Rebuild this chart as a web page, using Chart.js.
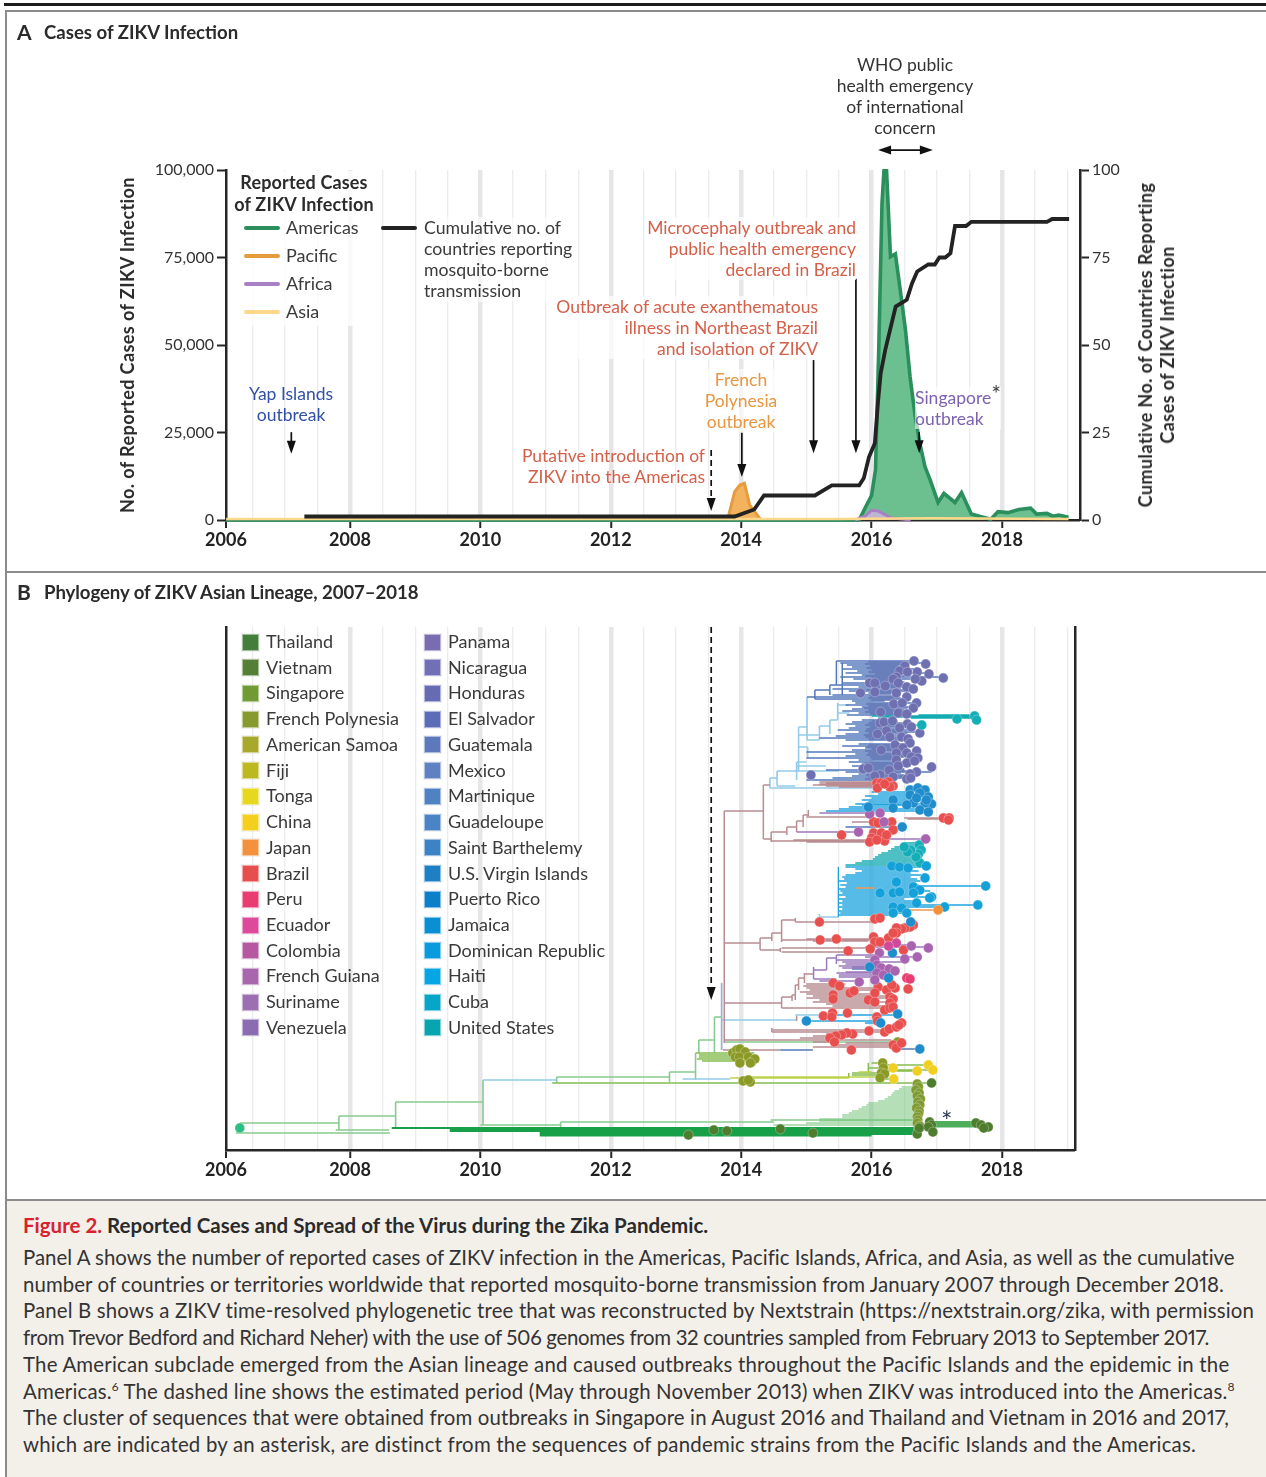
<!DOCTYPE html>
<html>
<head>
<meta charset="utf-8">
<title>Reported Cases and Spread of the Virus during the Zika Pandemic</title>
<script src="https://cdn.jsdelivr.net/npm/chart.js@4/dist/chart.umd.min.js"></script>
<style>
html, body { margin: 0; padding: 0; background: #fff; }
body { position: relative; width: 1266px; height: 1477px; overflow: hidden; font-family: Lato, sans-serif; color: #333; }
canvas { position: absolute; left: 0; display: block; }
#chartA { top: 0; }
#chartB { top: 572px; }
.rule { position: absolute; background: #8b8b8b; }
#caption { position: absolute; left: 7px; top: 1200px; width: 1259px; height: 277px; background: #f3f0ea; }
.cap { position: absolute; left: 23px; font-size: 20.4px; line-height: 26px; white-space: nowrap; color: #333; font-variant-numeric: proportional-nums; }
.cap sup { font-size: 12px; line-height: 0; }
.t { position: absolute; white-space: nowrap; font-size: 17.5px; line-height: 21.3px; }
.r { text-align: right; } .c { text-align: center; }
.red { color: #d4604a; } .bold { font-weight: 700; color: #2b2b2b; }
.lk { position: absolute; height: 4px; border-radius: 2px; width: 36px; }
.sw { position: absolute; width: 15px; height: 15px; border: 1px solid rgba(255,255,255,.5); outline: 1px solid rgba(0,0,0,.05); }
.lt { position: absolute; font-size: 18px; line-height: 22px; white-space: nowrap; color: #3a3a3a; }
.rot { position: absolute; transform: translate(-50%, -50%) rotate(-90deg); white-space: nowrap; font-weight: 700; font-size: 18px; line-height: 22px; letter-spacing: .42px; color: #2b2b2b; text-align: center; }
</style>
</head>
<body>
<canvas id="chartA" width="1266" height="571"></canvas>
<canvas id="chartB" width="1266" height="627"></canvas>
<div id="caption"></div>
<div id="overlay"></div>

<script>
// Panel A - reported cases, readings (decimal year, cases)
const americasYears = [2006.1,2015.81,2015.91,2016.0,2016.06,2016.11,2016.16,2016.19,2016.23,2016.29,2016.365,2016.44,2016.52,2016.59,2016.67,2016.74,2016.82,2016.9,2017.02,2017.11,2017.28,2017.38,2017.53,2017.68,2017.83,2017.94,2018.09,2018.26,2018.44,2018.53,2018.69,2018.78,2018.87,2019.02];
const americasCases = [0,0,3800,7000,14300,48600,90500,99800,99800,75200,76000,65700,54300,41000,29500,21900,15200,11400,5000,7600,5000,7800,1700,950,200,2400,2100,3000,3400,1700,1900,1100,1400,760];
const pacificYears = [2013.79,2013.9,2013.98,2014.05,2014.13,2014.29];
const pacificCases = [0,8100,10000,10500,4300,300];
const africaYears = [2015.75,2015.9,2016.0,2016.1,2016.3,2016.6];
const africaCases = [0,1100,2800,2600,600,0];
const asiaYears = [2006.1,2013.0,2015.5,2016.9,2019.02];
const asiaCases = [300,300,300,500,300];
const countryYears = [2007.3,2007.32,2013.9,2014.05,2014.2,2014.35,2015.13,2015.39,2015.81,2015.88,2015.96,2016.05,2016.1,2016.14,2016.21,2016.37,2016.54,2016.62,2016.7,2016.87,2016.97,2017.04,2017.13,2017.21,2017.28,2017.45,2017.53,2018.69,2018.77,2019.03];
const countryCounts = [1,1,1,2,3,7,7,9.9,9.9,11.9,18,21.9,34,41.9,48.6,61,62.9,67.6,71,73,73,75,75,76.2,84,84,85.2,85.2,86,86];

// Arrows of panel A, in chart units: year, cases at tail, cases at tip
const arrowYearsA = [2007.1,2013.54,2014.01,2015.11,2015.76,2016.73];
const arrowTailsA = [25100,20000,24900,45700,68900,25100];
const arrowTipsA = [18900,2570,12300,19100,19100,19100];
const whoYears = [2016.1,2016.94];
const whoLevel = 105700;

// Shared time axis
const halfYearTicks = [2006.098,2006.5,2007,2007.5,2008,2008.5,2009,2009.5,2010,2010.5,2011,2011.5,2012,2012.5,2013,2013.5,2014,2014.5,2015,2015.5,2016,2016.5,2017,2017.5,2018,2018.5,2019];
const yearLabels = {2006.098:'2006',2008:'2008',2010:'2010',2012:'2012',2014:'2014',2016:'2016',2018:'2018'};

// Panel B legend
const countriesLeft = ['Thailand','Vietnam','Singapore','French Polynesia','American Samoa','Fiji','Tonga','China','Japan','Brazil','Peru','Ecuador','Colombia','French Guiana','Suriname','Venezuela'];
const swatchesLeft = ['#437e3a','#557f35','#6f9a34','#869a30','#a6a92c','#bcb81f','#e5d81f','#f5cf1e','#f4913e','#e74f4f','#e83d71','#dd4a9b','#b5589f','#a866ad','#9b6fb2','#8a6cb3'];
const countriesRight = ['Panama','Nicaragua','Honduras','El Salvador','Guatemala','Mexico','Martinique','Guadeloupe','Saint Barthelemy','U.S. Virgin Islands','Puerto Rico','Jamaica','Dominican Republic','Haiti','Cuba','United States'];
const swatchesRight = ['#7a6cb3','#716fb6','#656cb4','#5b6db8','#5d78bd','#5f80c3','#4f82c3','#4a84c6','#3c83c5','#1d7fc4','#0b80c8','#0a8fd5','#0a9ae0','#06a5e5','#06a6c8','#06a5b0'];

// Panel B tree. Tips are [year, row]; horizontal branches [row, from, to]; vertical [year, rowA, rowB]
const centralTips = [[2016.65,489],[2016.83,486],[2016.51,484],[2016.43,479],[2016.7,478],[2016.88,476],[2017.1,472],[2016.38,473],[2016.55,478],[2016.77,469],[2016.67,471],[2016.33,471],[2016.41,467],[2016.54,463],[2016.64,461],[2016.38,457],[2015.97,467],[2016.05,467],[2016.21,464],[2015.83,457],[2016.05,458],[2016.54,453],[2016.69,447],[2016.34,446],[2016.47,447],[2016.64,442],[2016.41,437],[2016.54,436],[2016.14,438],[2016.13,427],[2016.19,428],[2016.32,429],[2016.55,426],[2016.61,423],[2016.23,419],[2016.43,422],[2016.74,417],[2016.09,416],[2016.28,413],[2016.46,413],[2016.56,411],[2016.59,407],[2016.15,400],[2016.36,405],[2016.48,402],[2016.69,399],[2016.38,397],[2016.54,397],[2016.61,393],[2016.71,392],[2016.38,390],[2016.54,387],[2016.66,389],[2016.41,384],[2015.87,381],[2015.95,382],[2016.27,380],[2016.92,383],[2016.69,378],[2016.59,376],[2016.33,373],[2016.13,375],[2016.05,374],[2016.54,371],[2016.6,372],[2015.07,375]];
const brazilTips = [[2016.08,367],[2016.15,367],[2016.26,368],[2016.33,364],[2016.09,362],[2016.28,363],[2016.2,366],
  [2016.03,328],[2016.1,327],[2016.31,328],[2016.33,320],[2016.03,317],[2016.15,317],[2015.54,315],[2016,312],[2015.97,308],[2016.2,309],[2016.23,315],[2016.08,310],[2017.1,332],[2017.19,332],[2017.18,330],
  [2015.2,228],[2016.05,231],[2016.13,232],[2016.64,225],[2016.59,223],[2016.51,222],[2016.46,221],[2016.38,222],[2016.38,217],[2016.26,212],[2016.33,217],[2016.03,213],[2016.05,208],[2016.13,208],[2015.21,210],[2015.46,211],[2015.64,199],[2015.98,201],[2016.49,200],
  [2015.41,167],[2015.51,164],[2016.1,163],[2016.05,157],[2016.23,160],[2016.36,162],[2016.31,165],[2016.56,161],[2015.41,155],[2015.41,151],[2015.67,157],[2015.73,159],[2015.95,150],[2016.05,148],[2016.28,153],[2016.33,151],[2016.28,147],[2016.2,140],[2016.28,142],[2016.33,143],[2015.26,134],[2015.4,137],[2015.39,133],[2015.63,137],[2016.08,133],[2016.09,129],
  [2015.96,119],[2016.2,118],[2016.27,121],[2016.38,123],[2016.46,127],[2016.42,125],[2015.71,116],[2015.62,117],[2015.54,115],[2015.45,114],[2015.36,112],[2015.43,108],[2016.33,105],[2016.38,102],[2016.46,107],[2015.69,100]];
const peruTips = [[2016.54,172],[2016.59,171]];
const ecuadorTips = [[2016.38,207],[2016.26,204]];
const colombiaTips = [[2016.13,337],[2015.97,336],[2016.19,328],[2015.8,318],[2016.83,311],[2016.61,204],[2016.87,202],[2016.51,191],[2016.7,193],[2016.12,197],[2016.05,190],[2016.08,185],[2016.15,182],[2016.27,181],[2016.36,179],[2016.08,177],[2016.18,175],[2015.81,168],[2016.05,170]];
const puertoRicoTips = [[2016.59,360],[2016.71,362],[2016.82,360],[2016.59,355],[2016.74,357],[2016.87,353],[2016.33,350],[2016.92,346],[2016.82,347],[2016.64,347],[2016.54,345],[2015.95,343],[2016.33,342],[2016.74,340],[2016.87,338],[2016.69,352],[2016.84,350],[2016.47,323],
  [2016.6,228],[2016.32,197],[2015.97,183],[2016.26,172],[2015,129],[2016.14,127],[2016.4,136],[2016.74,101]];
const haitiTips = [[2016.31,284],[2016.43,283],[2016.56,282],[2016.84,284],[2016.82,272],[2016.38,268],[2016.64,263],[2016.74,260],[2016.92,253],[2016.33,257],[2017.75,264],[2016.43,258],[2016.64,257],[2016.89,252],[2016.69,247],[2016.33,243],[2016.46,242],[2016.54,237],[2016.33,237],[2017.12,243],[2017.63,245],[2016.13,257]];
const unitedStatesTips = [[2016.73,305],[2016.76,300],[2016.72,296],[2016.7,291],[2016.74,287],[2016.68,293],[2016.6,300],[2016.55,298],[2016.5,303],[2017.31,431],[2017.58,434],[2017.61,430],[2016.77,425]];
const japanTips = [[2017.02,240]];
const polynesiaTips = [[2013.87,97],[2013.93,100],[2013.98,101],[2014.06,98],[2013.91,93],[2013.97,93],[2013.98,87],[2014.11,93],[2014.16,88],[2014.21,91],[2014.14,87],[2014.03,69],[2014.14,68],[2014.11,70],[2016.17,87],[2016.18,82],[2016.15,77],[2016.2,76],[2016.13,72],[2016.4,108]];
const tongaTips = [[2016.33,82],[2016.7,79],[2016.87,85],[2016.94,80],[2016.34,71]];
const singaporeTips = [[2016.7,66],[2016.72,63],[2016.68,60],[2016.73,57],[2016.7,54],[2016.75,51],[2016.71,48],[2016.74,45],[2016.69,42],[2016.73,39],[2016.72,36],[2016.7,33],[2016.71,30],[2016.7,27],[2016.74,24],[2016.72,21]];
const thailandTips = [[2016.92,67],[2017.6,27],[2017.68,25],[2017.79,23],[2017.72,22],[2016.89,28],[2016.92,25],[2016.87,23],[2016.94,18],[2016.7,16],[2016.73,22],[2013.58,20],[2013.78,19],[2013.19,15],[2014.6,21],[2015.1,17]];
const rootTips = [[2006.31,22]];

const blueH = [[489,2015.46,2016.65],[487,2015.52,2016.83],[485,2015.62,2016.5],[483,2015.7,2016.45],[481,2015.55,2016.72],[479,2015.78,2016.55],[477,2015.6,2016.88],[475,2015.85,2016.38],[473,2015.52,2017.1],[471,2015.72,2016.6],[469,2015.9,2016.33],[467,2015.55,2016.4],[465,2015.36,2016.5],[463,2015.8,2016.55],[461,2015.4,2016.1],[459,2015.65,2016.62],[457,2015.95,2016.45],[455,2015.4,2016.0],[453,2015.01,2016.4],[451,2015.13,2016.55],[449,2015.7,2016.2],
  [447,2015.75,2016.7],[445,2015.6,2016.34],[443,2015.85,2016.6],[441,2015.7,2016.47],[439,2015.55,2016.55],[437,2015.8,2016.62],[435,2015.62,2016.4],
  [430,2015.85,2016.14],[428,2015.7,2016.3],[426,2015.6,2016.55],[424,2015.75,2016.6],[422,2015.65,2016.2],[420,2015.48,2016.65],[418,2015.8,2016.74],[416,2015.6,2016.08],[414,2015.45,2016.27],[412,2015.2,2016.46],[410,2015.6,2016.56],
  [406,2015.8,2016.56],[404,2015.55,2016.3],[402,2015.9,2016.5],[400,2015.7,2016.36],[398,2015.0,2016.15],[396,2015.75,2016.48],[394,2015.6,2016.7],[392,2015.0,2016.4],[390,2015.8,2016.36],
  [388,2015.65,2016.68],[386,2015.85,2016.55],[384,2015.7,2016.6],[382,2015.95,2016.42],[380,2015.3,2016.5],[378,2015.6,2016.92],[376,2015.8,2016.27],[374,2015.7,2016.7],[372,2015.4,2016.55],[370,2015.0,2016.34],[460,2015.13,2015.36],
  [323,2015.6,2016.45],[100,2014.6,2015.1],[183,2015.7,2016.0],[181,2015.7,2016.0],[101,2016.38,2016.74]];
const blueCoreH = [[488,2015.95,2016.5],[486,2015.9,2016.45],[484,2015.98,2016.4],[482,2015.92,2016.5],[480,2016.0,2016.45],[478,2015.95,2016.55],[476,2016.05,2016.4],[474,2015.9,2016.5],[472,2016.0,2016.35],[470,2015.95,2016.45],[468,2016.02,2016.5],[466,2015.9,2016.4],[464,2015.98,2016.55],[462,2016.0,2016.45],[460,2015.92,2016.5],[458,2016.02,2016.4],[456,2016.05,2016.3],[454,2015.98,2016.35],[452,2015.95,2016.45],[450,2016.0,2016.3],
  [446,2015.92,2016.5],[444,2015.95,2016.45],[442,2015.88,2016.55],[440,2015.95,2016.5],[438,2015.9,2016.45],[436,2015.98,2016.4],
  [429,2016.0,2016.4],[427,2015.95,2016.5],[425,2015.9,2016.45],[423,2015.98,2016.55],[421,2015.92,2016.5],[419,2015.9,2016.45],[417,2015.95,2016.55],[415,2015.88,2016.4],[413,2015.9,2016.5],[411,2015.95,2016.4],
  [405,2015.95,2016.5],[403,2015.92,2016.45],[401,2016.0,2016.5],[399,2015.9,2016.4],[397,2015.95,2016.5],[395,2015.92,2016.55],[393,2015.98,2016.5],[391,2016.0,2016.4],
  [387,2015.9,2016.55],[385,2015.95,2016.5],[383,2016.0,2016.45],[381,2015.9,2016.5],[379,2015.95,2016.55],[377,2016.0,2016.45],[375,2015.92,2016.5],[373,2015.95,2016.55],[371,2015.9,2016.4]];
const blueV = [[2015.13,451,460],[2015.36,455,465],[2015.46,465,489],[2015.55,455,487]];
const skyH = [[372,2014.44,2014.55],[379,2014.55,2014.85],[388,2014.85,2015.0],[364,2014.55,2014.83],[362,2014.44,2016.03],[415,2014.88,2015.2],[423,2014.88,2015.01],[410,2015.01,2015.2],[424,2015.2,2015.36],[430,2015.36,2015.48],[445,2015.48,2015.65],[437,2015.48,2015.66],[403,2014.88,2015.02],[379,2014.85,2015.5],[384,2014.85,2015.3],[233,2015.2,2015.49],
  [70,2010.04,2011.17],[71,2013.1,2013.83],[130,2013.7,2014.85],[135,2014.83,2015.3]];
const skyV = [[2014.44,362,372],[2014.55,364,379],[2014.85,370,388],[2014.88,379,423],[2015.01,410,453],[2015.2,410,424],[2015.36,416,430],[2015.48,430,447],[2015.02,392,403],[2015.2,228,236]];
const brownH = [[339,2013.74,2014.34],[365,2014.34,2014.44],[311,2014.34,2014.46],[318,2014.46,2014.7],[309,2014.46,2016.0],[310,2014.8,2016.0],[308,2015.0,2016.0],[323,2014.7,2014.85],[329,2014.85,2014.95],[335,2014.95,2015.03],[333,2015.0,2016.0],[332,2016.5,2017.15],[331,2016.55,2017.1],[328,2015.7,2016.1],
  [368,2015.2,2016.2],[367,2015.3,2016.15],[366,2015.2,2016.26],[365,2015.1,2016.2],[364,2015.3,2016.33],[363,2015.5,2016.28],
  [207,2013.73,2014.29],[212,2014.29,2014.47],[200,2014.29,2014.6],[217,2014.47,2014.62],[230,2014.62,2014.83],[210,2014.62,2016.03],[211,2015,2016],[209,2015.1,2015.95],[202,2014.62,2015.98],[198,2014.62,2015.64],[228,2014.83,2016.05],
  [147,2013.74,2014.62],[153,2014.62,2014.78],[142,2014.62,2016.2],[155,2014.78,2014.83],[165,2014.83,2014.88],[172,2014.88,2014.97],[176,2014.97,2015.11],
  [166,2015,2015.6],[164,2014.95,2015.51],[162,2015,2016.36],[160,2015.05,2016.23],[158,2014.9,2015.73],[156,2015,2016.05],[154,2015.1,2016.3],[152,2015,2016.33],[150,2015.2,2015.95],[148,2015.1,2016.28],[146,2015.3,2016.05],[144,2015.4,2016.33],
  [120,2014.47,2016.4],[118,2014.47,2016.2],[110,2013.74,2016.3],[112,2014.9,2015.4],[114,2015.1,2015.5],[116,2015.3,2015.75],[108,2015.1,2015.43],[100,2013.72,2014.6],[103,2015.1,2016.33],[105,2015.4,2016.33],[107,2015.6,2016.46]];
const brownV = [[2013.74,107,339],[2014.34,311,365],[2014.46,308,318],[2014.7,315,323],[2014.85,318,329],[2014.95,323,335],[2015.03,334,340],[2014.29,200,212],[2014.47,209,217],[2014.62,208,230],[2014.6,198,202],[2014.83,228,232],[2014.62,142,153],[2014.78,149,155],[2014.83,150,165],[2014.88,160,172],[2014.97,167,177],[2014.85,129,134],[2014.47,118,122]];
const slateV = [[2013.7,100,167]];
const poolH = [[358,2016.0,2016.6],[356,2016.1,2016.6],[354,2015.9,2016.85],[352,2016,2016.7],[350,2015.85,2016.8],[348,2015.95,2016.6],[346,2015.75,2016.9],[345,2015.85,2016.55],[343,2015.65,2016.3],[341,2015.5,2016.7],[339,2015.3,2016.85],
  [283,2015.6,2016.84],[281,2015.75,2016.5],[279,2015.85,2016.72],[277,2015.75,2016.6],[275,2015.6,2016.76],[273,2015.55,2016.6],[271,2015.58,2016.7],[269,2015.5,2016.75],[267,2015.62,2016.68],[265,2015.52,2016.72],[264,2016.7,2017.74],[263,2015.6,2016.72],[261,2015.5,2016.7],[259,2015.52,2016.9],
  [257,2015.55,2016.6],[255,2015.5,2016.7],[253,2015.6,2016.92],[251,2015.5,2016.5],[249,2015.55,2016.7],[247,2015.5,2016.7],[245,2015.55,2017.63],[243,2015.5,2017.12],[241,2015.55,2016.5],[239,2015.5,2016.55],[237,2015.52,2016.55],[235,2015.49,2016.3],
  [135,2015.3,2016.4],[129,2015,2016.09],[127,2015.9,2016.14]];
const poolV = [[2015.49,233,283]];
const tealH = [[307,2016.5,2016.8],[305,2016.45,2016.8],[303,2016.35,2016.78],[301,2016.3,2016.76],[299,2016.25,2016.78],[297,2016.15,2016.75],[295,2016.1,2016.76],[293,2016.05,2016.72],[291,2016.02,2016.74],[289,2015.85,2016.7],[287,2015.75,2016.72],[285,2015.6,2016.7],
  [435,2016.72,2017.5],[434,2016,2017.55],[433,2016.1,2017.58],[432,2016.6,2017.55],[425,2016.3,2016.77]];
const purpleH = [[337,2015.2,2016.05],[318,2014.85,2015.8],[311,2016.17,2016.83],[192,2015.31,2015.46],[195,2015.46,2016.12],[190,2015.46,2016.05],[180,2015.11,2015.31],[171,2015.11,2015.46],[177,2015.46,2016.08],[188,2015.55,2016.5],[186,2015.6,2016.1],[184,2015.5,2016.15],[182,2015.55,2016.27],[178,2015.6,2016.36],[175,2015.5,2016.18],[173,2015.5,2016.05],[169,2015.2,2015.81],[203,2015.9,2016.87],[205,2015.95,2016.6],[193,2015.9,2016.7]];
const purpleV = [[2015.31,180,192],[2015.46,186,195],[2015.11,171,183]];
const paleGreenH = [[108,2013.74,2016.4],[133,2013.59,2013.7],[110,2013.35,2013.59],[78,2012.9,2013.3],[73,2011.17,2012.9],[27,2006.31,2007.83],[17,2006.25,2008.61],[34,2007.83,2008.7],[20,2007.78,2008.6],[48,2008.7,2010.04],[25,2010.0,2011.23],[28,2011.23,2014.5],[30,2014.45,2016.7]];
const paleGreenV = [[2013.59,97,133],[2013.35,97,110],[2013.3,70,97],[2012.9,68,78],[2006.31,17,27],[2007.83,20,34],[2008.7,22,48],[2010.04,25,70],[2011.17,67,73],[2011.23,22,28]];
const fanH = [[63,2016.46,2016.72],[61,2016.42,2016.7],[59,2016.35,2016.7],[57,2016.32,2016.73],[55,2016.3,2016.7],[53,2016.25,2016.72],[51,2016.2,2016.75],[49,2016.1,2016.7],[47,2015.95,2016.72],[45,2015.92,2016.74],[43,2015.85,2016.7],[41,2015.8,2016.72],[39,2015.7,2016.73],[37,2015.65,2016.72],[35,2015.55,2016.7],[33,2015.55,2016.7],[31,2015.2,2016.7],[29,2015.2,2016.7],[27,2015.0,2016.7],[25,2014.5,2016.7]];
const thailandH = [[28,2016.9,2017.55],[26.5,2016.9,2017.6],[25,2016.9,2017.7],[23.5,2016.9,2017.75]];
const leafH = [[97,2013.3,2014.2],[95,2013.35,2014.05],[93,2013.35,2014.0],[91,2013.32,2013.95],[89,2013.4,2014.15],[67,2011.1,2016.92],[87,2016.0,2016.17],[82,2015.95,2016.33],[79,2016.1,2016.7],[85,2016.2,2016.87],[80,2016.2,2016.94],[77,2015.7,2016.15],[75,2015.7,2016.2],[71,2016.1,2016.34]];
const leafV = [[2015.65,72,77],[2015.95,77,87]];
const limeH = [[72,2013.83,2015.65],[73,2014,2016.2],[78,2015.8,2016.0]];
const forestH = [[22,2008.64,2016.8],[20.5,2009.53,2016.8],[19,2009.53,2016.7],[17.5,2010.91,2016.7],[16,2010.91,2016.7],[14.5,2010.91,2016.0]];
const orangeH = [[240,2016.55,2017.02],[262,2015.75,2016.05]];

// Dashed arrow of panel B: year, row at tail, row at tip
const arrowYearsB = [2013.54];
const arrowTailsB = [523];
const arrowTipsB = [150];

const inkColor = '#262626';

function tipsDataset(tips, color, radius) {
    return {
        data: tips.map(t => ({ x: t[0], y: t[1] })),
        showLine: false,
        pointRadius: radius || 4.9,
        pointBackgroundColor: color,
        pointBorderColor: 'rgba(255,255,255,0.28)',
        pointBorderWidth: 1
    };
}

function branchDataset(horizontal, vertical, color, width) {
    const points = [];
    horizontal.forEach(b => points.push({ x: b[1], y: b[0] }, { x: b[2], y: b[0] }, { x: null, y: null }));
    (vertical || []).forEach(b => points.push({ x: b[0], y: b[1] }, { x: b[0], y: b[2] }, { x: null, y: null }));
    return {
        data: points,
        showLine: true,
        borderColor: color,
        borderWidth: width || 1.5,
        pointRadius: 0
    };
}

function caseLine(years, values, line, area, width) {
    return {
        type: 'line',
        data: years.map((y, i) => ({ x: y, y: values[i] })),
        borderColor: line,
        borderWidth: width,
        backgroundColor: area,
        fill: area ? 'origin' : false,
        pointRadius: 0,
        tension: 0,
        yAxisID: 'y',
        clip: false
    };
}

function arrowHead(ctx, x, y, dx, dy) {
    ctx.beginPath();
    ctx.moveTo(x, y);
    ctx.lineTo(x - dx * 13 - dy * 4.5, y - dy * 13 - dx * 4.5);
    ctx.lineTo(x - dx * 13 + dy * 4.5, y - dy * 13 + dx * 4.5);
    ctx.closePath();
    ctx.fill();
}

function drawArrow(ctx, x, yTail, yTip, dashed) {
    ctx.save();
    ctx.strokeStyle = '#111';
    ctx.fillStyle = '#111';
    ctx.lineWidth = 1.7;
    if (dashed) ctx.setLineDash([6, 4]);
    ctx.beginPath();
    ctx.moveTo(x, yTail);
    ctx.lineTo(x, yTip - 8);
    ctx.stroke();
    ctx.setLineDash([]);
    arrowHead(ctx, x, yTip, 0, 1);
    ctx.restore();
}

const arrowsA = {
    id: 'arrowsA',
    afterDatasetsDraw(chart) {
        const { ctx, scales } = chart;
        arrowYearsA.forEach((year, i) => {
            drawArrow(ctx, scales.x.getPixelForValue(year), scales.y.getPixelForValue(arrowTailsA[i]), scales.y.getPixelForValue(arrowTipsA[i]), i === 1);
        });
        const x0 = scales.x.getPixelForValue(whoYears[0]);
        const x1 = scales.x.getPixelForValue(whoYears[1]);
        const yWho = scales.y.getPixelForValue(whoLevel);
        ctx.save();
        ctx.strokeStyle = '#111';
        ctx.fillStyle = '#111';
        ctx.lineWidth = 1.7;
        ctx.beginPath();
        ctx.moveTo(x0 + 6, yWho);
        ctx.lineTo(x1 - 6, yWho);
        ctx.stroke();
        arrowHead(ctx, x0, yWho, -1, 0);
        arrowHead(ctx, x1, yWho, 1, 0);
        ctx.restore();
    }
};

const arrowsB = {
    id: 'arrowsB',
    afterDatasetsDraw(chart) {
        const { ctx, scales } = chart;
        arrowYearsB.forEach((year, i) => {
            drawArrow(ctx, scales.x.getPixelForValue(year), scales.y.getPixelForValue(arrowTailsB[i]), scales.y.getPixelForValue(arrowTipsB[i]), true);
        });
    }
};

function timeAxis(xMax, height) {
    return {
        type: 'linear',
        min: 2006.098,
        max: xMax,
        afterBuildTicks: scale => { scale.ticks = halfYearTicks.map(v => ({ value: v })); },
        afterFit: scale => { scale.height = height; },
        border: { color: inkColor, width: 2.5 },
        grid: {
            color: ctx => yearLabels[ctx.tick.value] && ctx.tick.value !== 2006.098 ? '#e6e6e9' : '#ececee',
            lineWidth: ctx => ctx.tick.value === 2006.098 ? 0 : (yearLabels[ctx.tick.value] ? 4.5 : 1.3),
            tickColor: ctx => yearLabels[ctx.tick.value] ? inkColor : 'rgba(0,0,0,0)',
            tickWidth: 2,
            tickLength: 8
        },
        ticks: {
            autoSkip: false,
            maxRotation: 0,
            padding: 1,
            color: '#222',
            font: { family: 'Lato', size: 18, weight: '700' },
            callback: v => yearLabels[v] || ''
        }
    };
}

function sideAxis(position, width, min, max, extra) {
    return Object.assign({
        type: 'linear',
        position: position,
        min: min,
        max: max,
        afterFit: scale => { scale.width = width; },
        border: { color: inkColor, width: 2.5 },
        grid: { display: true, drawOnChartArea: false, tickColor: inkColor, tickWidth: 2, tickLength: 9 }
    }, extra);
}

// Panel A
new Chart(document.getElementById('chartA'), {
    type: 'line',
    data: {
        datasets: [
            Object.assign(caseLine(countryYears, countryCounts, '#232323', null, 3.8), { yAxisID: 'yCountries' }),
            caseLine(asiaYears, asiaCases, '#fdd88a', null, 2.4),
            caseLine(africaYears, africaCases, '#a880c4', 'rgba(205,180,220,0.85)', 3),
            caseLine(pacificYears, pacificCases, '#e59c3e', '#f3b25e', 3),
            caseLine(americasYears, americasCases, '#2a8f5c', '#6cc08f', 3.6)
        ]
    },
    options: {
        responsive: false,
        animation: false,
        layout: { padding: { top: 170, left: 0, right: 0, bottom: 0 } },
        plugins: { legend: { display: false }, tooltip: { enabled: false } },
        scales: {
            x: timeAxis(2019.197, 51),
            y: sideAxis('left', 226, 0, 100000, {
                ticks: { stepSize: 25000, padding: 3, color: '#333', font: { family: 'Lato', size: 16 }, callback: v => v.toLocaleString('en-US') }
            }),
            yCountries: sideAxis('right', 186, 0, 100, {
                ticks: { stepSize: 25, padding: 3, color: '#333', font: { family: 'Lato', size: 16 } }
            })
        }
    },
    plugins: [arrowsA]
});

// Panel B
new Chart(document.getElementById('chartB'), {
    type: 'scatter',
    data: {
        datasets: [
            tipsDataset(japanTips, '#f0913c'),
            tipsDataset(peruTips, '#e83d71'),
            tipsDataset(ecuadorTips, '#d04a9a'),
            tipsDataset(tongaTips, '#f0cf20'),
            tipsDataset(puertoRicoTips, '#1f8ccc'),
            tipsDataset(colombiaTips, '#a864b0'),
            tipsDataset(brazilTips, '#e8504f'),
            tipsDataset(haitiTips, '#14a0d8'),
            tipsDataset(unitedStatesTips, '#14aeb8'),
            tipsDataset(centralTips, '#6f70b2'),
            tipsDataset(polynesiaTips, '#8a9a24'),
            tipsDataset(thailandTips, '#4e7d2e'),
            tipsDataset(singaporeTips, '#7f9a30'),
            tipsDataset(rootTips, '#2ebd84'),
            branchDataset(orangeH, null, '#ee9a50'),
            branchDataset(tealH, null, '#14aab2', 1.4),
            branchDataset(poolH, poolV, '#1fa6e0', 1.3),
            branchDataset(purpleH, purpleV, '#9c78bc', 1.5),
            branchDataset(blueCoreH, null, '#6478b8', 1.4),
            branchDataset(blueH, blueV, '#5478bc', 1.5),
            branchDataset(brownH, brownV, '#b98d92', 1.5),
            branchDataset([], slateV, '#9bb0cf', 1.7),
            branchDataset(skyH, skyV, '#93cbe9', 1.6),
            branchDataset(limeH, null, '#bcd24a', 1.6),
            branchDataset(leafH, leafV, '#86bd50', 1.5),
            branchDataset(thailandH, null, '#4fae5c', 1.8),
            branchDataset(forestH, null, '#18a048', 1.8),
            branchDataset(fanH, null, '#6cc070', 1.1),
            branchDataset(paleGreenH, paleGreenV, '#86cc90', 1.6)
        ]
    },
    options: {
        responsive: false,
        animation: false,
        layout: { padding: { top: 55, left: 0, right: 0, bottom: 0 } },
        plugins: { legend: { display: false }, tooltip: { enabled: false } },
        scales: {
            x: timeAxis(2019.12, 49),
            y: sideAxis('left', 226, 0, 523, { ticks: { display: false }, grid: { display: true, drawOnChartArea: false, drawTicks: false } }),
            yEdge: sideAxis('right', 191, 0, 523, { ticks: { display: false }, grid: { display: true, drawOnChartArea: false, drawTicks: false } })
        }
    },
    plugins: [arrowsB]
});

// Texts, legends and frame are laid over the canvases
const overlay = document.getElementById('overlay');

function rule(x, y, w, h, color) {
    const d = document.createElement('div');
    d.className = 'rule';
    d.style.cssText = `left:${x}px;top:${y}px;width:${w}px;height:${h}px;` + (color ? `background:${color};` : '');
    overlay.appendChild(d);
}

function text(cls, css, html) {
    const d = document.createElement('div');
    d.className = 't ' + cls;
    d.style.cssText = css;
    d.innerHTML = html;
    overlay.appendChild(d);
    return d;
}

rule(4, 3, 1262, 2.5, '#1c1c1c');
rule(5, 10, 1261, 2);
rule(5, 10, 2, 1467);
rule(5, 570.5, 1261, 2);
rule(5, 1198.5, 1261, 2);

text('bold', 'left:17px;top:21px;font-size:21px;', 'A');
text('bold', 'left:44px;top:22px;font-size:18.6px;', 'Cases of ZIKV Infection');
text('bold', 'left:17px;top:581px;font-size:21px;', 'B');
text('bold', 'left:44px;top:582px;font-size:18.6px;letter-spacing:-.07px;', 'Phylogeny of ZIKV Asian Lineage, 2007–2018');

const left = document.createElement('div');
left.className = 'rot';
left.style.cssText = 'left:127px;top:345px;';
left.textContent = 'No. of Reported Cases of ZIKV Infection';
overlay.appendChild(left);
const right = document.createElement('div');
right.className = 'rot';
right.style.cssText = 'left:1156px;top:345px;';
right.innerHTML = 'Cumulative No. of Countries Reporting<br>Cases of ZIKV Infection';
overlay.appendChild(right);

// Panel A notes
text('c', 'left:805px;width:200px;top:53.5px;color:#333;', 'WHO public<br>health emergency<br>of international<br>concern');
text('', 'left:232px;top:171px;width:145px;height:155px;background:rgba(255,255,255,.8);', '');
text('bold c', 'left:224px;width:160px;top:171px;font-size:18px;line-height:22px;letter-spacing:.15px;', 'Reported Cases<br>of ZIKV Infection');
const caseKeys = ['Americas', 'Pacific', 'Africa', 'Asia'];
const caseKeyColors = ['#2a8f5c', '#e59c3e', '#a880c4', '#fdd88a'];
caseKeys.forEach((name, i) => {
    const yKey = 228 + i * 28;
    const k = document.createElement('div');
    k.className = 'lk';
    k.style.cssText = `left:244px;top:${yKey - 2}px;background:${caseKeyColors[i]};`;
    overlay.appendChild(k);
    text('', `left:286px;top:${yKey - 11.5}px;color:#3a3a3a;font-size:18px;`, name);
});
const blackKey = document.createElement('div');
blackKey.className = 'lk';
blackKey.style.cssText = 'left:381px;top:226px;background:#232323;';
overlay.appendChild(blackKey);
text('', 'left:424px;top:216.5px;color:#3a3a3a;background:rgba(255,255,255,.6);font-size:17.7px;', 'Cumulative no. of<br>countries reporting<br>mosquito-borne<br>transmission');
text('r red', 'right:410px;top:216.5px;background:rgba(255,255,255,.7);', 'Microcephaly outbreak and<br>public health emergency<br>declared in Brazil');
text('r red', 'right:448px;top:295.5px;background:rgba(255,255,255,.7);', 'Outbreak of acute exanthematous<br>illness in Northeast Brazil<br>and isolation of ZIKV');
text('c', 'left:681px;width:120px;top:368.5px;color:#e8963f;background:rgba(255,255,255,.6);', 'French<br>Polynesia<br>outbreak');
text('r red', 'right:561px;top:444.5px;', 'Putative introduction of<br>ZIKV into the Americas');
text('c', 'left:231px;width:120px;top:382.5px;color:#2f50a5;', 'Yap Islands<br>outbreak');
text('', 'left:915px;top:386.5px;color:#7d62b0;background:rgba(255,255,255,.62);', 'Singapore<span style="color:#444;position:relative;top:-2px;font-size:23px;line-height:0;">*</span><br>outbreak');

// Panel B legend
function countryLegend(names, colors, xSwatch, xText) {
    names.forEach((name, i) => {
        const yRow = 642 + i * 25.73;
        const sw = document.createElement('div');
        sw.className = 'sw';
        sw.style.cssText = `left:${xSwatch}px;top:${yRow - 8.5}px;background:${colors[i]};`;
        overlay.appendChild(sw);
        const lb = document.createElement('div');
        lb.className = 'lt';
        lb.style.cssText = `left:${xText}px;top:${yRow - 12}px;`;
        lb.textContent = name;
        overlay.appendChild(lb);
    });
}
countryLegend(countriesLeft, swatchesLeft, 242, 266);
countryLegend(countriesRight, swatchesRight, 424, 448);
text('', 'left:941px;top:1110px;font-size:27px;color:#2b3a55;', '*');

// Caption
const captionLines = [
    'Panel A shows the number of reported cases of ZIKV infection in the Americas, Pacific Islands, Africa, and Asia, as well as the cumulative',
    'number of countries or territories worldwide that reported mosquito-borne transmission from January 2007 through December 2018.',
    'Panel B shows a ZIKV time-resolved phylogenetic tree that was reconstructed by Nextstrain (https://nextstrain.org/zika, with permission',
    'from Trevor Bedford and Richard Neher) with the use of 506 genomes from 32 countries sampled from February 2013 to September 2017.',
    'The American subclade emerged from the Asian lineage and caused outbreaks throughout the Pacific Islands and the epidemic in the',
    'Americas.<sup>6</sup> The dashed line shows the estimated period (May through November 2013) when ZIKV was introduced into the Americas.<sup>8</sup>',
    'The cluster of sequences that were obtained from outbreaks in Singapore in August 2016 and Thailand and Vietnam in 2016 and 2017,',
    'which are indicated by an asterisk, are distinct from the sequences of pandemic strains from the Pacific Islands and the Americas.'
];
const captionLineEnds = [1235, 1224, 1254, 1209, 1229, 1235, 1229, 1196];
const cap = document.getElementById('overlay');
const heading = document.createElement('div');
heading.className = 'cap';
heading.style.cssText = 'top:1212px;font-weight:700;font-size:20.5px;color:#2b2b2b;z-index:2;';
heading.innerHTML = '<span style="color:#d8232f;">Figure 2.</span> Reported Cases and Spread of the Virus during the Zika Pandemic.';
cap.appendChild(heading);
captionLines.forEach((line, i) => {
    const d = document.createElement('div');
    d.className = 'cap';
    d.style.top = (1244 + i * 26.72) + 'px';
    d.innerHTML = line;
    cap.appendChild(d);
    // stretch each line to the measure it has in the printed figure
    const spare = captionLineEnds[i] - d.getBoundingClientRect().right;
    d.style.letterSpacing = (spare / d.textContent.length) + 'px';
});
</script>
</body>
</html>
